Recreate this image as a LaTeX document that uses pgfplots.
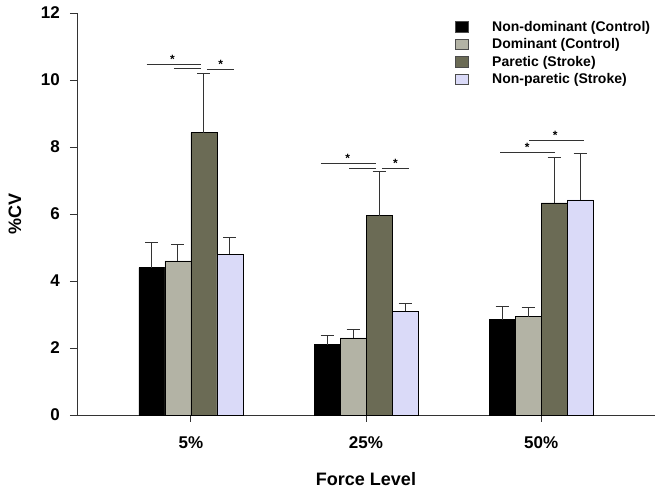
\documentclass[border=0pt]{standalone}
\usepackage{pgfplots}
\pgfplotsset{compat=1.18}
\usepackage{fontspec}
\setmainfont{Liberation Sans}

\definecolor{nondom}{HTML}{000000}
\definecolor{dom}{HTML}{B3B3A5}
\definecolor{paretic}{HTML}{6B6B55}
\definecolor{nonpar}{HTML}{DADAF8}

\newcommand{\legfont}{\fontsize{14}{16}\selectfont\bfseries}

% x = force level index (0: 5%, 1: 25%, 2: 50%), y = %CV, e = error
\pgfplotstableread{
x y e
0 4.40 0.75
1 2.10 0.28
2 2.85 0.39
}\nondomtab
\pgfplotstableread{
x y e
0 4.60 0.50
1 2.30 0.25
2 2.94 0.28
}\domtab
\pgfplotstableread{
x y e
0 8.43 1.77
1 5.95 1.33
2 6.33 1.37
}\paretictab
\pgfplotstableread{
x y e
0 4.80 0.50
1 3.09 0.23
2 6.42 1.40
}\nonpartab

\begin{document}
\begin{tikzpicture}
\begin{axis}[
    name=ax,
    scale only axis,
    width=578pt, height=402pt,
    ybar=0pt,
    bar width=26pt,
    xmin=-0.65, xmax=2.65,
    ymin=0, ymax=12,
    xtick={0,1,2},
    xticklabels={5\%,25\%,50\%},
    ytick={0,2,4,6,8,10,12},
    axis lines=left,
    axis line style={-, line width=0.8pt, black!80},
    tick style={line width=0.8pt, black!80},
    major tick length=7pt,
    tick align=outside,
    ticklabel style={font=\fontsize{17}{17}\selectfont\bfseries},
    /pgf/number format/assume math mode=true,
    xticklabel style={font=\fontsize{17}{17}\selectfont\bfseries, yshift=-11.5pt},
    yticklabel style={xshift=-6.7pt},
    xlabel={\fontsize{18}{18}\selectfont\bfseries Force Level},
    xlabel style={at={(axis description cs:0.5,0)}, anchor=center, yshift=-64pt},
    ylabel={\fontsize{18}{18}\selectfont\bfseries \%CV},
    ylabel style={at={(axis description cs:0,0.5)}, anchor=center, yshift=62pt},
    legend style={draw=none, fill=none, at={(0.654,0.985)}, anchor=north west,
        inner sep=0pt, outer sep=0pt, row sep=1.8pt,
        font=\legfont,
        nodes={inner sep=2pt}, column sep=0pt},
    legend cell align=left,
    legend image code/.code={%
        \draw[#1, draw=black!70] (0pt,-5.3pt) rectangle (13pt,5.3pt);
        \path[draw=none, fill=none] (0pt,0pt) -- (35pt,0pt);},
    error bars/y dir=plus,
    error bars/y explicit,
    error bars/error bar style={line width=0.8pt, black!80},
    error bars/error mark options={rotate=90, mark size=6.5pt, line width=0.8pt, black!80},
    clip=false,
]
\addplot[fill=nondom, draw=black] table[x=x, y=y, y error=e] {\nondomtab};
\addlegendentry{\legfont Non-dominant (Control)}
\addplot[fill=dom, draw=black] table[x=x, y=y, y error=e] {\domtab};
\addlegendentry{\legfont Dominant (Control)}
\addplot[fill=paretic, draw=black] table[x=x, y=y, y error=e] {\paretictab};
\addlegendentry{\legfont Paretic (Stroke)}
\addplot[fill=nonpar, draw=black] table[x=x, y=y, y error=e] {\nonpartab};
\addlegendentry{\legfont Non-paretic (Stroke)}

% significance brackets
\pgfplotsset{sig/.style={sharp plot, no marks, line width=0.9pt, black!80, forget plot}}
\addplot[sig] coordinates {(-0.253,10.47) (0.057,10.47)};
\addplot[sig] coordinates {(-0.097,10.33) (0.057,10.33)};
\addplot[sig] coordinates {(0.091,10.32) (0.246,10.32)};
\addplot[sig] coordinates {(0.743,7.50) (1.057,7.50)};
\addplot[sig] coordinates {(0.903,7.37) (1.057,7.37)};
\addplot[sig] coordinates {(1.090,7.35) (1.244,7.35)};
\addplot[sig] coordinates {(1.931,8.19) (2.244,8.19)};
\addplot[sig] coordinates {(1.766,7.83) (2.080,7.83)};

\node[font=\fontsize{12}{12}\selectfont\bfseries] at (axis cs:-0.105,10.62) {*};
\node[font=\fontsize{12}{12}\selectfont\bfseries] at (axis cs:0.171,10.46) {*};
\node[font=\fontsize{12}{12}\selectfont\bfseries] at (axis cs:0.895,7.66) {*};
\node[font=\fontsize{12}{12}\selectfont\bfseries] at (axis cs:1.168,7.50) {*};
\node[font=\fontsize{12}{12}\selectfont\bfseries] at (axis cs:2.080,8.34) {*};
\node[font=\fontsize{12}{12}\selectfont\bfseries] at (axis cs:1.920,7.98) {*};
\end{axis}
\path[use as bounding box] ([xshift=-77pt,yshift=-79pt]ax.south west)
    rectangle ([xshift=6pt,yshift=13pt]ax.north east);
\end{tikzpicture}
\end{document}
